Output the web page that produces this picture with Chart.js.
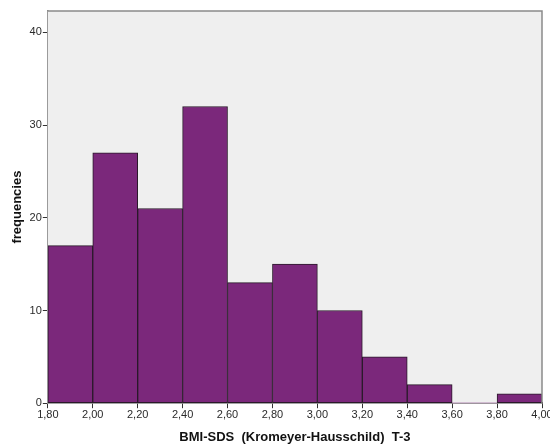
<!DOCTYPE html>
<html>
<head>
<meta charset="utf-8">
<script src="https://cdn.jsdelivr.net/npm/chart.js@4/dist/chart.umd.min.js"></script>
<style>
  html, body { margin: 0; padding: 0; background: #fff; overflow: hidden; }
  #wrap { width: 560px; height: 445px; }
</style>
</head>
<body>
<div id="wrap"><canvas id="histChart" width="560" height="445"></canvas></div>
<script>
// bin edges of the histogram (BMI-SDS)
const binEdges = [1.8, 2.0, 2.2, 2.4, 2.6, 2.8, 3.0, 3.2, 3.4, 3.6, 3.8, 4.0];
// counts per bin
const frequencies = [17, 27, 21, 32, 13, 15, 10, 5, 2, 0, 1];
const yTicks = [0, 10, 20, 30, 40];

const points = frequencies.map((f, i) => ({ x: (binEdges[i] + binEdges[i + 1]) / 2, y: f }));

// grey plot background + frame
const plotFrame = {
    id: 'plotFrame',
    beforeDatasetsDraw(chart) {
        const a = chart.chartArea, c = chart.ctx;
        c.save();
        c.fillStyle = '#efefef';
        c.fillRect(a.left, a.top, a.right - a.left, a.bottom - a.top);
        c.restore();
    },
    afterDraw(chart) {
        const a = chart.chartArea, c = chart.ctx;
        c.save();
        c.strokeStyle = '#8a8a8a';
        c.lineWidth = 1.5;
        c.beginPath();
        c.moveTo(a.left, a.top);
        c.lineTo(a.right, a.top);
        c.lineTo(a.right, a.bottom);
        c.stroke();
        c.restore();
    }
};

const ctx = document.getElementById('histChart').getContext('2d');
new Chart(ctx, {
    type: 'bar',
    data: {
        datasets: [{
            label: 'frequencies',
            data: points,
            backgroundColor: '#7b287b',
            borderColor: '#2a1a2a',
            borderWidth: c => (c.raw && c.raw.y > 0 ? 1 : 0),
            borderSkipped: false,
            barPercentage: 1,
            categoryPercentage: 1
        }]
    },
    plugins: [plotFrame],
    options: {
        responsive: false,
        animation: false,
        layout: { padding: { left: 10, right: 18, top: 11, bottom: 0 } },
        plugins: { legend: { display: false }, tooltip: { enabled: false } },
        scales: {
            x: {
                type: 'linear',
                offset: false,
                min: binEdges[0],
                max: binEdges[binEdges.length - 1],
                afterBuildTicks: axis => { axis.ticks = binEdges.map(v => ({ value: v })); },
                grid: { offset: false, drawOnChartArea: false, tickLength: 5, tickColor: '#333', lineWidth: 1 },
                border: { color: '#222', width: 1.5 },
                ticks: {
                    color: '#2a2a2a',
                    font: { family: 'Liberation Sans, Arial', size: 11 },
                    maxRotation: 0,
                    autoSkip: false,
                    padding: 0,
                    callback: v => Number(v).toFixed(2).replace('.', ',')
                },
                title: {
                    display: true,
                    text: 'BMI-SDS  (Kromeyer-Hausschild)  T-3',
                    color: '#111',
                    font: { family: 'Liberation Sans, Arial', size: 13, weight: 'bold' },
                    padding: { top: 8, bottom: 0 }
                }
            },
            y: {
                min: 0,
                max: 42.3,
                afterBuildTicks: axis => { axis.ticks = yTicks.map(v => ({ value: v })); },
                grid: { drawOnChartArea: false, tickLength: 5, tickColor: '#333', lineWidth: 1 },
                border: { color: '#8a8a8a', width: 1.5 },
                ticks: {
                    color: '#2a2a2a',
                    font: { family: 'Liberation Sans, Arial', size: 11 },
                    padding: 1
                },
                title: {
                    display: true,
                    text: 'frequencies',
                    color: '#111',
                    font: { family: 'Liberation Sans, Arial', size: 13, weight: 'bold' },
                    padding: { top: 0, bottom: 3 }
                }
            }
        }
    }
});
</script>
</body>
</html>
